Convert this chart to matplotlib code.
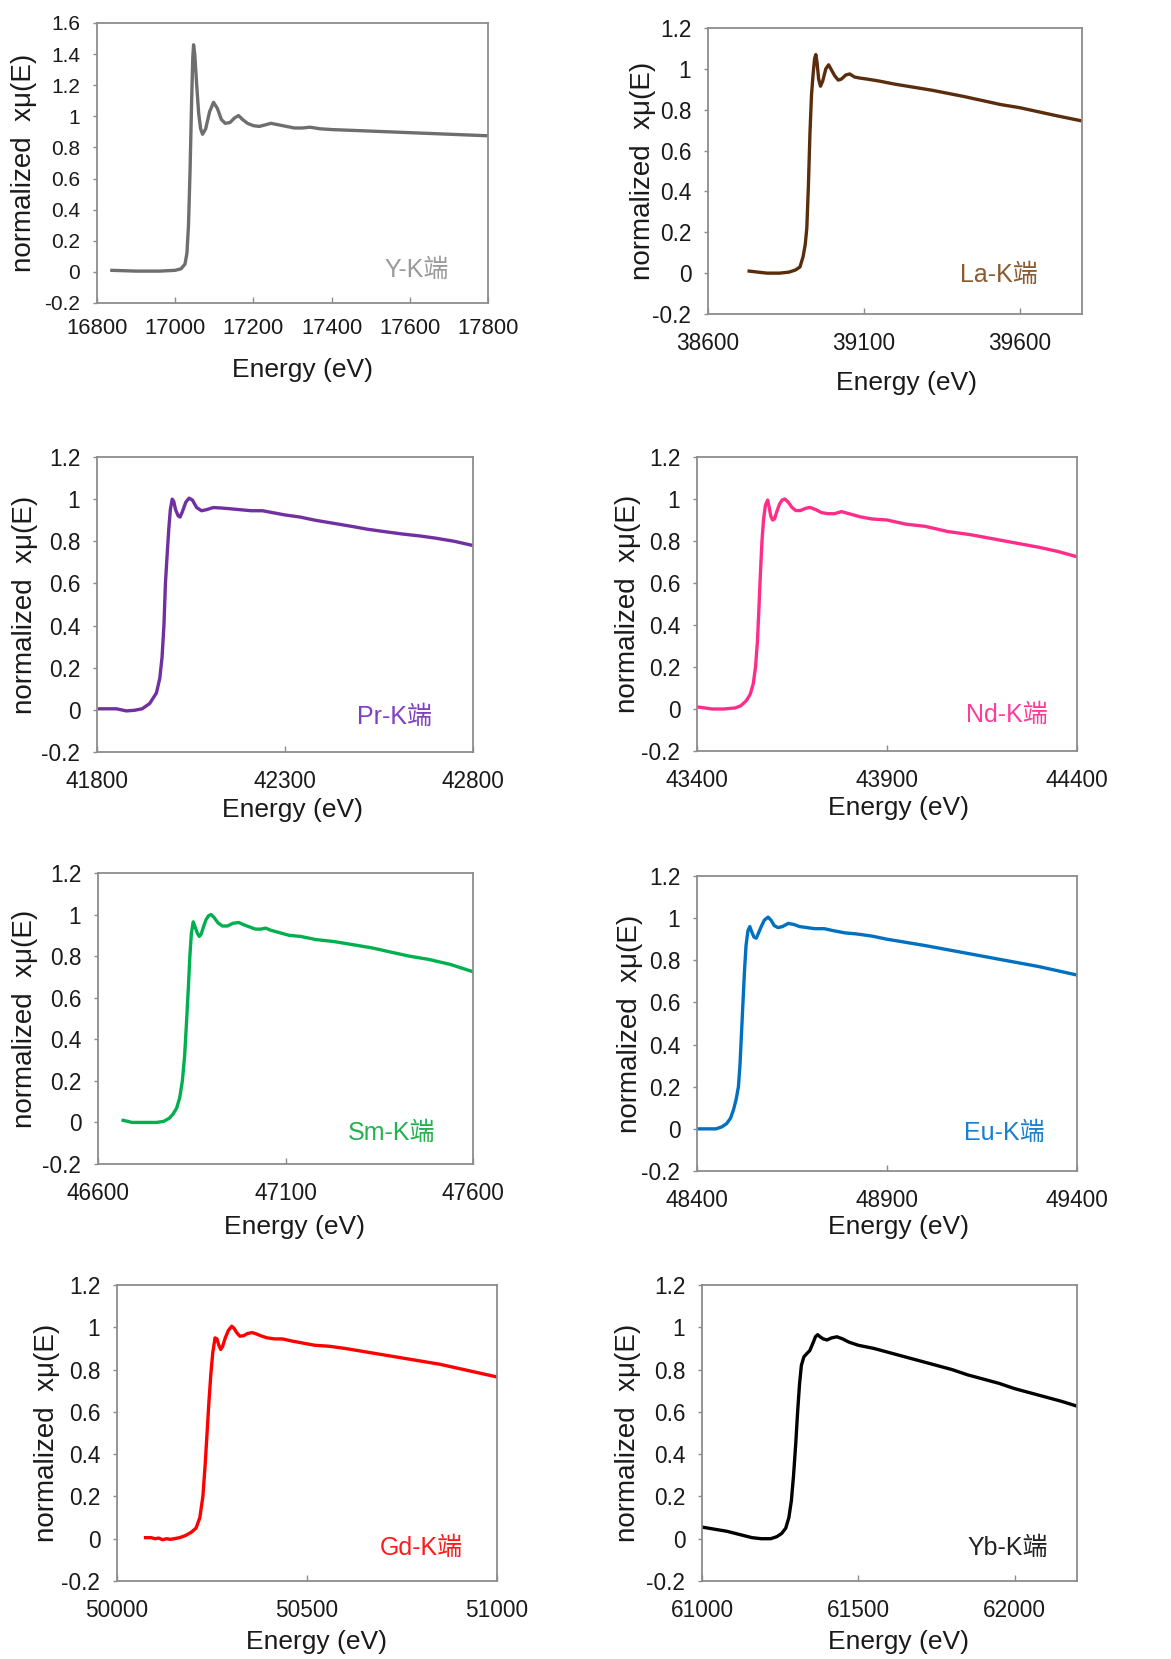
import matplotlib
matplotlib.use("Agg")
import matplotlib.pyplot as plt
from matplotlib.ticker import FuncFormatter

plt.rcParams['font.family'] = ['Liberation Sans', 'Noto Sans CJK SC', 'DejaVu Sans']

# ---------------- data ----------------
y_energy = [16838, 16900, 16960, 17000, 17015, 17025, 17030, 17034, 17038, 17042, 17045, 17047, 17050, 17055,
            17060, 17065, 17070, 17078, 17088, 17098, 17108, 17118, 17128, 17140, 17152, 17162, 17172, 17185,
            17200, 17215, 17230, 17245, 17265, 17285, 17305, 17325, 17345, 17370, 17400, 17450, 17500, 17550,
            17600, 17650, 17700, 17750, 17800]
y_mu = [0.01, 0.005, 0.005, 0.01, 0.02, 0.05, 0.12, 0.3, 0.65, 1.1, 1.38, 1.46, 1.40, 1.20,
        1.02, 0.92, 0.885, 0.92, 1.03, 1.09, 1.05, 0.98, 0.955, 0.96, 0.99, 1.005, 0.98, 0.955,
        0.94, 0.935, 0.945, 0.955, 0.945, 0.935, 0.925, 0.925, 0.93, 0.92, 0.915, 0.91, 0.905, 0.90,
        0.895, 0.89, 0.885, 0.88, 0.875]

la_energy = [38732, 38760, 38790, 38830, 38860, 38880, 38895, 38905, 38912, 38917, 38922, 38927, 38932, 38937,
             38942, 38946, 38950, 38955, 38961, 38968, 38978, 38987, 38996, 39007, 39018, 39028, 39042, 39055,
             39070, 39087, 39110, 39130, 39150, 39200, 39260, 39320, 39370, 39420, 39480, 39540, 39600, 39660,
             39720, 39800]
la_mu = [0.01, 0.005, 0.0, 0.0, 0.005, 0.015, 0.03, 0.08, 0.14, 0.22, 0.42, 0.68, 0.87, 0.97,
         1.05, 1.07, 1.03, 0.95, 0.915, 0.94, 1.0, 1.02, 0.995, 0.965, 0.945, 0.95, 0.97, 0.975,
         0.96, 0.955, 0.95, 0.945, 0.94, 0.925, 0.91, 0.895, 0.88, 0.865, 0.845, 0.825, 0.81, 0.79,
         0.77, 0.745]

pr_energy = [41807, 41830, 41852, 41878, 41900, 41920, 41940, 41958, 41967, 41973, 41978, 41982, 41987, 41991,
             41995, 42000, 42004, 42009, 42016, 42021, 42027, 42036, 42045, 42054, 42065, 42078, 42091, 42109,
             42130, 42150, 42180, 42210, 42240, 42270, 42300, 42340, 42380, 42430, 42480, 42520, 42560, 42610,
             42660, 42700, 42750, 42800]
pr_mu = [0.005, 0.005, 0.005, -0.005, -0.002, 0.005, 0.03, 0.08, 0.15, 0.25, 0.4, 0.6, 0.75, 0.86,
         0.95, 1.0, 0.99, 0.95, 0.92, 0.915, 0.94, 0.985, 1.005, 0.995, 0.96, 0.945, 0.95, 0.96,
         0.958, 0.955, 0.95, 0.945, 0.945, 0.935, 0.925, 0.915, 0.9, 0.885, 0.87, 0.857, 0.847, 0.835,
         0.825, 0.815, 0.8, 0.78]

nd_energy = [43400, 43420, 43440, 43470, 43500, 43515, 43530, 43540, 43548, 43554, 43559, 43563, 43567, 43571,
             43575, 43580, 43586, 43590, 43594, 43599, 43604, 43610, 43617, 43624, 43631, 43640, 43650, 43660,
             43672, 43685, 43697, 43712, 43728, 43745, 43762, 43780, 43800, 43830, 43860, 43900, 43950, 44000,
             44060, 44120, 44180, 44240, 44300, 44350, 44400]
nd_mu = [0.01, 0.005, 0.0, 0.0, 0.005, 0.015, 0.04, 0.07, 0.12, 0.2, 0.32, 0.48, 0.65, 0.8,
         0.9, 0.97, 0.995, 0.96, 0.92, 0.9, 0.905, 0.94, 0.975, 0.995, 1.0, 0.985, 0.96, 0.945,
         0.945, 0.955, 0.96, 0.95, 0.935, 0.93, 0.93, 0.94, 0.93, 0.915, 0.905, 0.9, 0.88, 0.87,
         0.845, 0.83, 0.81, 0.79, 0.77, 0.75, 0.725]

sm_energy = [46667, 46680, 46690, 46720, 46756, 46775, 46790, 46800, 46810, 46818, 46825, 46831, 46836, 46841,
             46845, 46849, 46854, 46859, 46865, 46870, 46875, 46881, 46888, 46895, 46902, 46910, 46920, 46932,
             46945, 46960, 46975, 46990, 47005, 47020, 47035, 47047, 47060, 47080, 47110, 47140, 47180, 47230,
             47280, 47330, 47380, 47430, 47480, 47540, 47600]
sm_mu = [0.01, 0.005, 0.0, 0.0, 0.0, 0.005, 0.02, 0.04, 0.07, 0.12, 0.2, 0.32, 0.48, 0.65,
         0.8, 0.91, 0.965, 0.94, 0.91, 0.895, 0.905, 0.94, 0.975, 0.995, 1.0, 0.985, 0.96, 0.945,
         0.945, 0.958, 0.962, 0.95, 0.94, 0.93, 0.93, 0.935, 0.925, 0.915, 0.9, 0.895, 0.88, 0.87,
         0.855, 0.84, 0.82, 0.8, 0.785, 0.76, 0.725]

eu_energy = [48400, 48430, 48450, 48466, 48478, 48488, 48496, 48503, 48509, 48513, 48517, 48521, 48525, 48529,
             48534, 48539, 48544, 48550, 48556, 48562, 48569, 48577, 48587, 48595, 48603, 48613, 48625, 48640,
             48655, 48670, 48690, 48710, 48735, 48760, 48790, 48820, 48860, 48900, 48950, 49000, 49060, 49120,
             49180, 49240, 49300, 49350, 49400]
eu_mu = [0.0, 0.0, 0.0, 0.01, 0.025, 0.05, 0.09, 0.14, 0.2, 0.3, 0.45, 0.6, 0.75, 0.87,
         0.94, 0.96, 0.935, 0.91, 0.905, 0.93, 0.96, 0.99, 1.005, 0.99, 0.965, 0.955, 0.96, 0.975,
         0.97, 0.96, 0.955, 0.95, 0.95, 0.94, 0.93, 0.925, 0.915, 0.9, 0.885, 0.87, 0.85, 0.83,
         0.81, 0.79, 0.77, 0.75, 0.73]

gd_energy = [50075, 50090, 50100, 50110, 50120, 50130, 50140, 50150, 50165, 50180, 50195, 50208, 50218, 50226,
             50232, 50237, 50242, 50247, 50252, 50258, 50263, 50268, 50273, 50278, 50285, 50293, 50302, 50308,
             50315, 50323, 50333, 50343, 50355, 50365, 50378, 50395, 50415, 50435, 50460, 50490, 50520, 50560,
             50600, 50650, 50700, 50750, 50800, 50850, 50900, 50950, 51000]
gd_mu = [0.005, 0.005, 0.0, 0.003, -0.005, 0.0, -0.003, 0.0, 0.005, 0.015, 0.03, 0.05, 0.1, 0.2,
         0.35, 0.5, 0.65, 0.78, 0.88, 0.95, 0.945, 0.915, 0.895, 0.91, 0.95, 0.985, 1.005, 0.995,
         0.975, 0.958, 0.96, 0.97, 0.975, 0.97, 0.96, 0.95, 0.945, 0.945, 0.935, 0.925, 0.915, 0.91,
         0.9, 0.885, 0.87, 0.855, 0.84, 0.825, 0.805, 0.785, 0.765]

yb_energy = [61000, 61040, 61080, 61120, 61160, 61190, 61220, 61240, 61255, 61268, 61278, 61286, 61293, 61300,
             61306, 61312, 61318, 61326, 61335, 61345, 61355, 61363, 61370, 61378, 61388, 61400, 61415, 61432,
             61450, 61470, 61500, 61550, 61600, 61650, 61700, 61750, 61800, 61850, 61900, 61950, 62000, 62050,
             62100, 62150, 62200]
yb_mu = [0.055, 0.045, 0.035, 0.02, 0.005, 0.0, 0.0, 0.01, 0.025, 0.05, 0.1, 0.18, 0.3, 0.45,
         0.6, 0.73, 0.82, 0.86, 0.875, 0.89, 0.925, 0.955, 0.965, 0.955, 0.945, 0.94, 0.95, 0.955,
         0.945, 0.93, 0.915, 0.9, 0.88, 0.86, 0.84, 0.82, 0.8, 0.775, 0.755, 0.735, 0.71, 0.69,
         0.67, 0.65, 0.627]

edge_labels = ["Y-K端", "La-K端", "Pr-K端", "Nd-K端", "Sm-K端", "Eu-K端", "Gd-K端", "Yb-K端"]
x_ticks = [[16800, 17000, 17200, 17400, 17600, 17800],
           [38600, 39100, 39600],
           [41800, 42300, 42800],
           [43400, 43900, 44400],
           [46600, 47100, 47600],
           [48400, 48900, 49400],
           [50000, 50500, 51000],
           [61000, 61500, 62000]]
x_limits = [(16800, 17800), (38600, 39800), (41800, 42800), (43400, 44400),
            (46600, 47600), (48400, 49400), (50000, 51000), (61000, 62200)]
y_top = [1.6, 1.2, 1.2, 1.2, 1.2, 1.2, 1.2, 1.2]

energies = [y_energy, la_energy, pr_energy, nd_energy, sm_energy, eu_energy, gd_energy, yb_energy]
mus = [y_mu, la_mu, pr_mu, nd_mu, sm_mu, eu_mu, gd_mu, yb_mu]

# ---------------- style / layout ----------------
line_colors = ['#6e6e6e', '#5a2d0c', '#7030a0', '#ff2d8a', '#00b050', '#0070c0', '#ff0000', '#000000']
text_colors = ['#9a9a9a', '#8a5a30', '#7f3fbf', '#ff3c9a', '#22b14c', '#1a7fcf', '#ff1a1a', '#222222']

W, H = 1171, 1659
# axes boxes in pixels: left, top, right, bottom
boxes = [(97, 23, 488, 303), (708, 28, 1082, 314),
         (97, 457, 473, 752), (697, 457, 1077, 751),
         (98, 873, 473, 1164), (697, 876, 1077, 1171),
         (117, 1285, 497, 1581), (702, 1285, 1077, 1581)]
ylabel_cx = [24, 643, 25, 628, 25, 630, 47, 628]
xlabel_c = [(303, 370), (907, 383), (293, 810), (898, 808),
            (294, 1227), (899, 1227), (317, 1642), (898, 1642)]
ann_pos = [(0.90, 0.118), (0.882, 0.136), (0.89, 0.12), (0.924, 0.122),
           (0.899, 0.107), (0.916, 0.129), (0.91, 0.111), (0.923, 0.111)]
ytick_fs = [15, 16.3, 16.3, 16.3, 16.3, 16.3, 16.3, 16.3]
xtick_fs = [15.8, 16.3, 16.3, 16.3, 16.3, 16.3, 16.3, 16.3]

fig = plt.figure(figsize=(W / 100, H / 100), dpi=100)

fmt = FuncFormatter(lambda v, p: ('%g' % round(v, 2)))

for i in range(8):
    l, t, r, b = boxes[i]
    ax = fig.add_axes([l / W, 1 - b / H, (r - l) / W, (b - t) / H])
    ax.plot(energies[i], mus[i], color=line_colors[i], lw=2.4, solid_joinstyle='round')
    ax.set_xlim(*x_limits[i])
    ax.set_ylim(-0.2, y_top[i])
    ax.set_xticks(x_ticks[i])
    yt = [round(-0.2 + 0.2 * k, 1) for k in range(int(round((y_top[i] + 0.2) / 0.2)) + 1)]
    ax.set_yticks(yt)
    ax.yaxis.set_major_formatter(fmt)
    for s in ax.spines.values():
        s.set_color('#8c8c8c')
        s.set_linewidth(1.3)
    ax.tick_params(axis='y', direction='out', length=3, width=1, color='#8c8c8c',
                   labelsize=ytick_fs[i], labelcolor='#1a1a1a', pad=9)
    ax.tick_params(axis='x', direction='in', length=4, width=1, color='#8c8c8c',
                   labelsize=xtick_fs[i], labelcolor='#1a1a1a', pad=11 if i == 0 else 13)
    ax.set_ylabel('normalized  xμ(E)', fontsize=20, color='#1a1a1a', va='center')
    ax.yaxis.set_label_coords((ylabel_cx[i] - l) / (r - l), 0.5)
    ax.set_xlabel('Energy (eV)', fontsize=19, color='#1a1a1a', va='center')
    cx, cy = xlabel_c[i]
    ax.xaxis.set_label_coords((cx - l) / (r - l), (b - cy) / (b - t))
    ax.text(ann_pos[i][0], ann_pos[i][1], edge_labels[i], transform=ax.transAxes,
            ha='right', va='center', fontsize=18, color=text_colors[i],
            family=['Liberation Sans', 'Noto Sans CJK SC'])

fig.savefig('out.png', dpi=100, facecolor='white')
